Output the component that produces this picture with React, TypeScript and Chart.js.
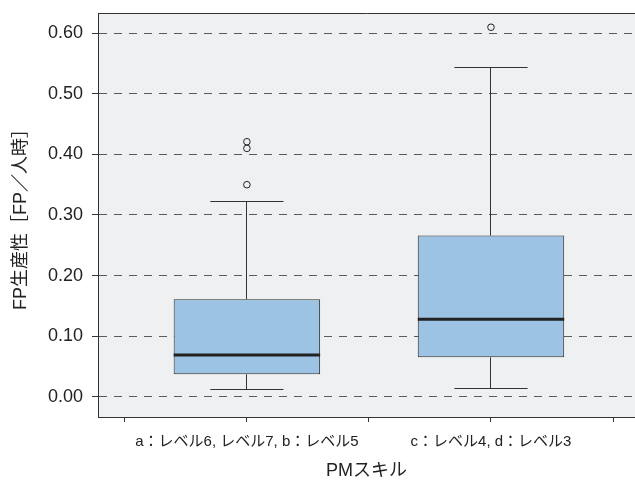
import React, { useEffect, useRef } from 'react';
import { Chart, registerables } from 'chart.js';

Chart.register(...registerables);

// ---- data ----
const categories = ['a：レベル6, レベル7, b：レベル5', 'c：レベル4, d：レベル3'];
const categoryPositions = [1, 2];
const whiskerLow = [0.012, 0.014];
const q1 = [0.037, 0.065];
const medians = [0.069, 0.128];
const q3 = [0.161, 0.266];
const whiskerHigh = [0.323, 0.544];
const outliers = [[0.35, 0.41, 0.421], [0.61]];
const yTicks = [0, 0.1, 0.2, 0.3, 0.4, 0.5, 0.6];
const xTicks = [0.5, 1, 1.5, 2, 2.5];

const FONT = "'Liberation Sans', 'Noto Sans CJK JP', Arial, sans-serif";
const CAP_HALF = 0.15;

const crisp = (v: number) => Math.floor(v) + 0.5;

const boxPlugin = {
  id: 'boxExtras',
  beforeDraw(chart: any) {
    const { ctx, chartArea: a } = chart;
    ctx.save();
    ctx.fillStyle = '#eff0f2';
    ctx.fillRect(a.left, a.top, a.right - a.left, a.bottom - a.top);
    ctx.restore();
  },
  afterDatasetsDraw(chart: any) {
    const { ctx } = chart;
    const xs = chart.scales.x;
    const ys = chart.scales.y;
    const meta = chart.getDatasetMeta(0);
    ctx.save();
    meta.data.forEach((bar: any, i: number) => {
      const { x: cx, width } = bar.getProps(['x', 'width'], true);
      const px = crisp(cx);
      const capL = xs.getPixelForValue(categoryPositions[i] - CAP_HALF);
      const capR = xs.getPixelForValue(categoryPositions[i] + CAP_HALF);
      const yHi = crisp(ys.getPixelForValue(whiskerHigh[i]));
      const yLo = crisp(ys.getPixelForValue(whiskerLow[i]));
      ctx.strokeStyle = '#333';
      ctx.lineWidth = 1;
      ctx.beginPath();
      // upper whisker
      ctx.moveTo(px, ys.getPixelForValue(q3[i]));
      ctx.lineTo(px, yHi);
      ctx.moveTo(capL, yHi);
      ctx.lineTo(capR, yHi);
      // lower whisker
      ctx.moveTo(px, ys.getPixelForValue(q1[i]));
      ctx.lineTo(px, yLo);
      ctx.moveTo(capL, yLo);
      ctx.lineTo(capR, yLo);
      ctx.stroke();
      // median
      ctx.strokeStyle = '#222';
      ctx.lineWidth = 3;
      ctx.beginPath();
      ctx.moveTo(cx - width / 2, ys.getPixelForValue(medians[i]));
      ctx.lineTo(cx + width / 2, ys.getPixelForValue(medians[i]));
      ctx.stroke();
    });
    ctx.restore();
  },
  afterDraw(chart: any) {
    const { ctx, chartArea: a } = chart;
    ctx.save();
    ctx.strokeStyle = '#333';
    ctx.lineWidth = 1;
    ctx.beginPath();
    ctx.moveTo(a.left, a.top + 0.5);
    ctx.lineTo(a.right, a.top + 0.5);
    ctx.stroke();
    ctx.restore();
  },
};

export default function App() {
  const ref = useRef<HTMLCanvasElement>(null);
  useEffect(() => {
    if (!ref.current) return;
    const boxData = categoryPositions.map((x, i) => ({ x, y: [q1[i], q3[i]] }));
    const outlierData: { x: number; y: number }[] = [];
    outliers.forEach((arr, i) => arr.forEach((v) => outlierData.push({ x: categoryPositions[i], y: v })));
    const chart = new Chart(ref.current, {
      type: 'bar',
      data: {
        datasets: [
          {
            type: 'bar',
            data: boxData as any,
            backgroundColor: '#9cc3e3',
            borderColor: '#2b2b2b',
            borderWidth: 1,
            borderSkipped: false,
            barPercentage: 1.2,
            categoryPercentage: 1,
          } as any,
          {
            type: 'scatter',
            data: outlierData,
            pointRadius: 3.3,
            pointBorderWidth: 1,
            pointBackgroundColor: 'rgba(0,0,0,0)',
            pointBorderColor: '#222',
          } as any,
        ],
      },
      options: {
        responsive: false,
        animation: false,
        devicePixelRatio: 1,
        layout: { autoPadding: false, padding: { top: 13, left: 0, right: 0, bottom: 0 } },
        plugins: { legend: { display: false }, tooltip: { enabled: false } },
        scales: {
          x: {
            type: 'linear',
            min: 0.39,
            max: 2.59,
            offset: false,
            afterBuildTicks: (s: any) => {
              s.ticks = xTicks.map((v) => ({ value: v }));
            },
            afterFit: (s: any) => {
              s.height = 67;
              s.paddingLeft = 0;
              s.paddingRight = 0;
            },
            ticks: {
              autoSkip: false,
              maxRotation: 0,
              minRotation: 0,
              padding: 11,
              color: '#222',
              font: { family: FONT, size: 15 },
              callback: (v: any) => {
                const idx = categoryPositions.indexOf(Number(v));
                return idx >= 0 ? categories[idx] : '';
              },
            },
            grid: {
              offset: false,
              drawOnChartArea: false,
              drawTicks: true,
              tickLength: 5,
              color: '#333',
            },
            border: { display: true, color: '#333', width: 1 },
            title: {
              display: true,
              text: 'PMスキル',
              color: '#222',
              font: { family: FONT, size: 18 },
              padding: { top: 0, bottom: 2 },
            },
          },
          y: {
            type: 'linear',
            min: -0.0335,
            max: 0.6335,
            afterBuildTicks: (s: any) => {
              s.ticks = yTicks.map((v) => ({ value: v }));
            },
            afterFit: (s: any) => {
              s.width = 98;
              s.paddingTop = 0;
              s.paddingBottom = 0;
            },
            ticks: {
              padding: 9,
              color: '#222',
              font: { family: FONT, size: 18 },
              callback: (v: any) => Number(v).toFixed(2),
            },
            grid: {
              color: '#5a5a5a',
              lineWidth: 1,
              tickLength: 6,
              tickColor: '#333',
            },
            border: { display: true, color: '#333', width: 1, dash: [8, 7] },
            title: {
              display: true,
              text: 'FP生産性［FP／人時］',
              color: '#222',
              font: { family: FONT, size: 18 },
              padding: { top: 10, bottom: 0 },
            },
          },
        },
      },
      plugins: [boxPlugin],
    } as any);
    return () => chart.destroy();
  }, []);
  return (
    <div style={{ position: 'fixed', left: 0, top: 0, width: 635, height: 484, background: '#fff' }}>
      <canvas ref={ref} width={635} height={484} style={{ display: 'block' }} />
    </div>
  );
}
